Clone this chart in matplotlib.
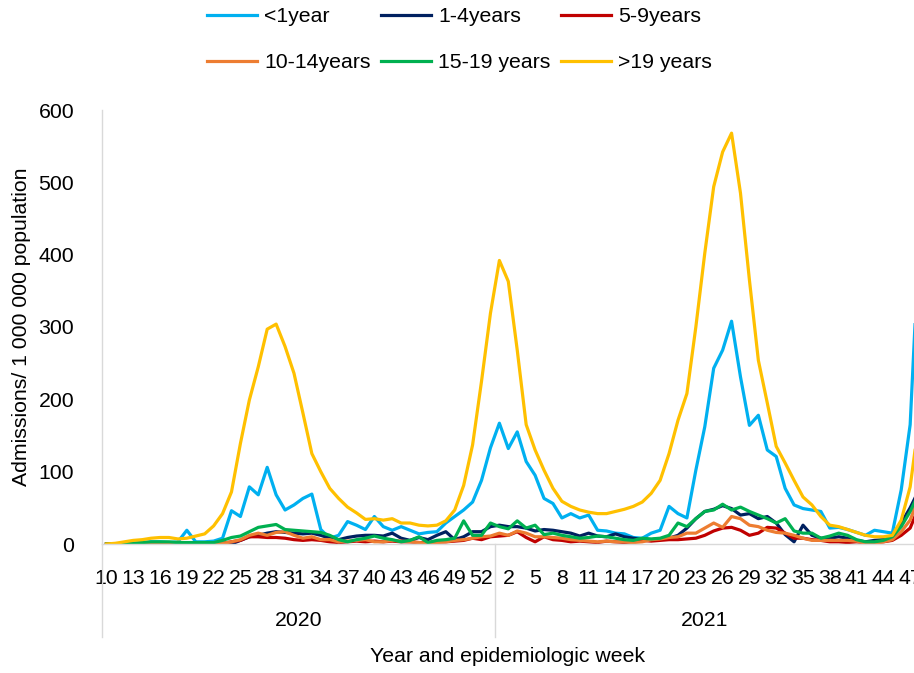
import numpy as np
import matplotlib
matplotlib.use('Agg')
import matplotlib.pyplot as plt
from matplotlib.transforms import blended_transform_factory

plt.rcParams['font.family'] = ['Liberation Sans', 'DejaVu Sans']

# epidemiologic weeks, 2020 (wk 10-53) followed by 2021 (wk 1-48)
weeks_2020 = list(range(10, 54))
weeks_2021 = list(range(1, 49))
years = ['2020', '2021']

series_names = ['<1year', '1-4years', '5-9years', '10-14years', '15-19 years', '>19 years']
series_colors = ['#00B0F0', '#002060', '#C00000', '#ED7D31', '#00B050', '#FFC000']

# admissions per 1 000 000 population
under_1 = [0, 0, 1, 1, 2, 3, 3, 2, 3, 19, 3, 3, 4, 8, 46, 38, 79, 68, 106, 68,
           47, 54, 63, 69, 20, 8, 12, 31, 26, 20, 38, 24, 19, 24, 19, 14, 16, 17, 29, 38,
           47, 58, 88, 133, 167, 132, 155, 114, 95, 63, 56, 36, 42, 36, 40, 19, 18, 15, 14, 9,
           8, 15, 19, 52, 42, 36, 102, 162, 243, 268, 308, 231, 164, 178, 130, 121, 77, 54, 49, 47,
           45, 22, 23, 20, 16, 12, 19, 17, 15, 75, 165, 420]
age_1_4 = [0, 0, 0, 0, 1, 1, 1, 1, 1, 1, 1, 1, 1, 1, 0, 5, 10, 12, 15, 17,
           16, 15, 14, 15, 12, 8, 6, 9, 11, 12, 12, 11, 15, 8, 5, 9, 6, 12, 17, 6,
           10, 17, 17, 24, 26, 24, 24, 22, 18, 20, 19, 17, 15, 11, 15, 11, 10, 14, 10, 8,
           6, 6, 7, 8, 12, 22, 35, 45, 48, 53, 49, 40, 42, 35, 38, 29, 13, 3, 26, 12,
           8, 8, 10, 8, 5, 3, 5, 6, 12, 29, 50, 75]
age_5_9 = [0, 0, 0, 0, 0, 0, 0, 0, 1, 1, 1, 1, 1, 1, 3, 5, 10, 10, 9, 9,
           8, 6, 5, 6, 5, 3, 2, 3, 4, 3, 4, 3, 4, 3, 3, 2, 2, 3, 3, 4,
           5, 8, 6, 10, 11, 12, 17, 9, 3, 10, 6, 5, 3, 4, 3, 2, 4, 3, 2, 3,
           5, 4, 5, 6, 6, 7, 8, 12, 18, 22, 23, 19, 12, 15, 23, 22, 15, 8, 8, 6,
           5, 3, 3, 2, 3, 2, 2, 3, 5, 12, 22, 52]
age_10_14 = [0, 0, 0, 0, 0, 0, 0, 0, 0, 0, 1, 1, 1, 1, 3, 6, 12, 15, 12, 16,
             17, 12, 8, 10, 6, 6, 3, 4, 5, 6, 3, 3, 5, 4, 3, 2, 1, 2, 3, 5,
             6, 8, 10, 11, 15, 12, 18, 15, 10, 10, 9, 8, 6, 5, 4, 3, 4, 3, 3, 2,
             3, 6, 7, 9, 10, 15, 15, 22, 29, 23, 38, 35, 26, 24, 19, 16, 15, 12, 8, 5,
             5, 5, 5, 5, 4, 1, 1, 3, 6, 17, 33, 66]
age_15_19 = [0, 0, 1, 1, 2, 3, 3, 3, 2, 2, 2, 2, 2, 5, 9, 11, 17, 23, 25, 27,
             20, 19, 18, 17, 16, 12, 6, 3, 6, 8, 11, 8, 6, 3, 5, 10, 2, 5, 6, 8,
             32, 12, 12, 29, 24, 21, 32, 22, 26, 13, 15, 12, 10, 8, 9, 11, 10, 8, 6, 5,
             8, 7, 8, 12, 29, 24, 35, 45, 47, 55, 47, 51, 45, 40, 35, 29, 35, 18, 15, 15,
             8, 11, 15, 12, 6, 3, 3, 5, 10, 24, 45, 71]
over_19 = [0, 1, 3, 5, 6, 8, 9, 9, 7, 8, 11, 14, 25, 42, 72, 139, 199, 245, 297, 304,
           273, 236, 181, 125, 100, 77, 63, 51, 43, 34, 35, 33, 35, 29, 29, 26, 25, 26, 32, 47,
           81, 137, 225, 319, 392, 363, 268, 165, 130, 102, 77, 59, 52, 47, 44, 42, 42, 45, 48, 52,
           58, 70, 88, 125, 171, 208, 300, 402, 494, 542, 568, 485, 365, 254, 195, 135, 112, 88, 65, 54,
           38, 26, 24, 20, 16, 12, 10, 10, 12, 33, 79, 172]

all_series = [under_1, age_1_4, age_5_9, age_10_14, age_15_19, over_19]

week_labels = [str(w) for w in weeks_2020 + weeks_2021]
x = np.arange(len(week_labels))
n_2020 = len(weeks_2020)
fs = 15.3

fig = plt.figure(figsize=(9.14, 6.73), dpi=100)
ax = fig.add_axes([102 / 914, 129 / 673, 812 / 914, 434 / 673])

lines = []
for vals, name, col in zip(all_series, series_names, series_colors):
    ln, = ax.plot(x, vals, color=col, lw=2.3, label=name, solid_joinstyle='round')
    lines.append(ln)

# right edge of the chart area falls just past week 47 of 2021
x_right = n_2020 + 46 + 0.43
ax.set_xlim(-0.5, x_right)
ax.set_ylim(0, 600)
ax.set_yticks(range(0, 601, 100))
ax.tick_params(axis='y', length=0, pad=20, labelsize=fs)

tick_pos = x[::3]
ax.set_xticks(tick_pos)
ax.set_xticklabels([week_labels[i] for i in tick_pos])
ax.tick_params(axis='x', length=0, pad=18, labelsize=fs)

for side in ['top', 'right']:
    ax.spines[side].set_visible(False)
for side in ['left', 'bottom']:
    ax.spines[side].set_color('#D9D9D9')
    ax.spines[side].set_linewidth(1.0)

# second level of the category axis: year groups and dividers
trans = blended_transform_factory(ax.transData, ax.transAxes)
for xd in [-0.5, n_2020 - 0.5]:
    ax.plot([xd, xd], [0, -93 / 434], color='#D9D9D9', lw=1.0,
            transform=trans, clip_on=False)
group_centres = [(-0.5 + n_2020 - 0.5) / 2, (n_2020 - 0.5 + x_right) / 2]
for xc, yr in zip(group_centres, years):
    ax.text(xc, -76 / 434, yr, transform=trans, ha='center', va='center', fontsize=fs)

ax.text(0.5, -113 / 434, 'Year and epidemiologic week', transform=ax.transAxes,
        ha='center', va='center', fontsize=fs)
ax.text(-80 / 812, 0.5, 'Admissions/ 1 000 000 population', transform=ax.transAxes,
        ha='center', va='center', rotation=90, fontsize=fs)

# legend fills column by column, so reorder to read across the rows
order = [0, 3, 1, 4, 2, 5]
fig.legend([lines[i] for i in order], [series_names[i] for i in order],
           loc='upper left', bbox_to_anchor=(207 / 914, 1 - 7 / 673), ncol=3,
           frameon=False, fontsize=fs, handlelength=2.35, handletextpad=0.33,
           columnspacing=0.5, labelspacing=1.27, borderpad=0, borderaxespad=0)

fig.savefig('out.png', dpi=100)
